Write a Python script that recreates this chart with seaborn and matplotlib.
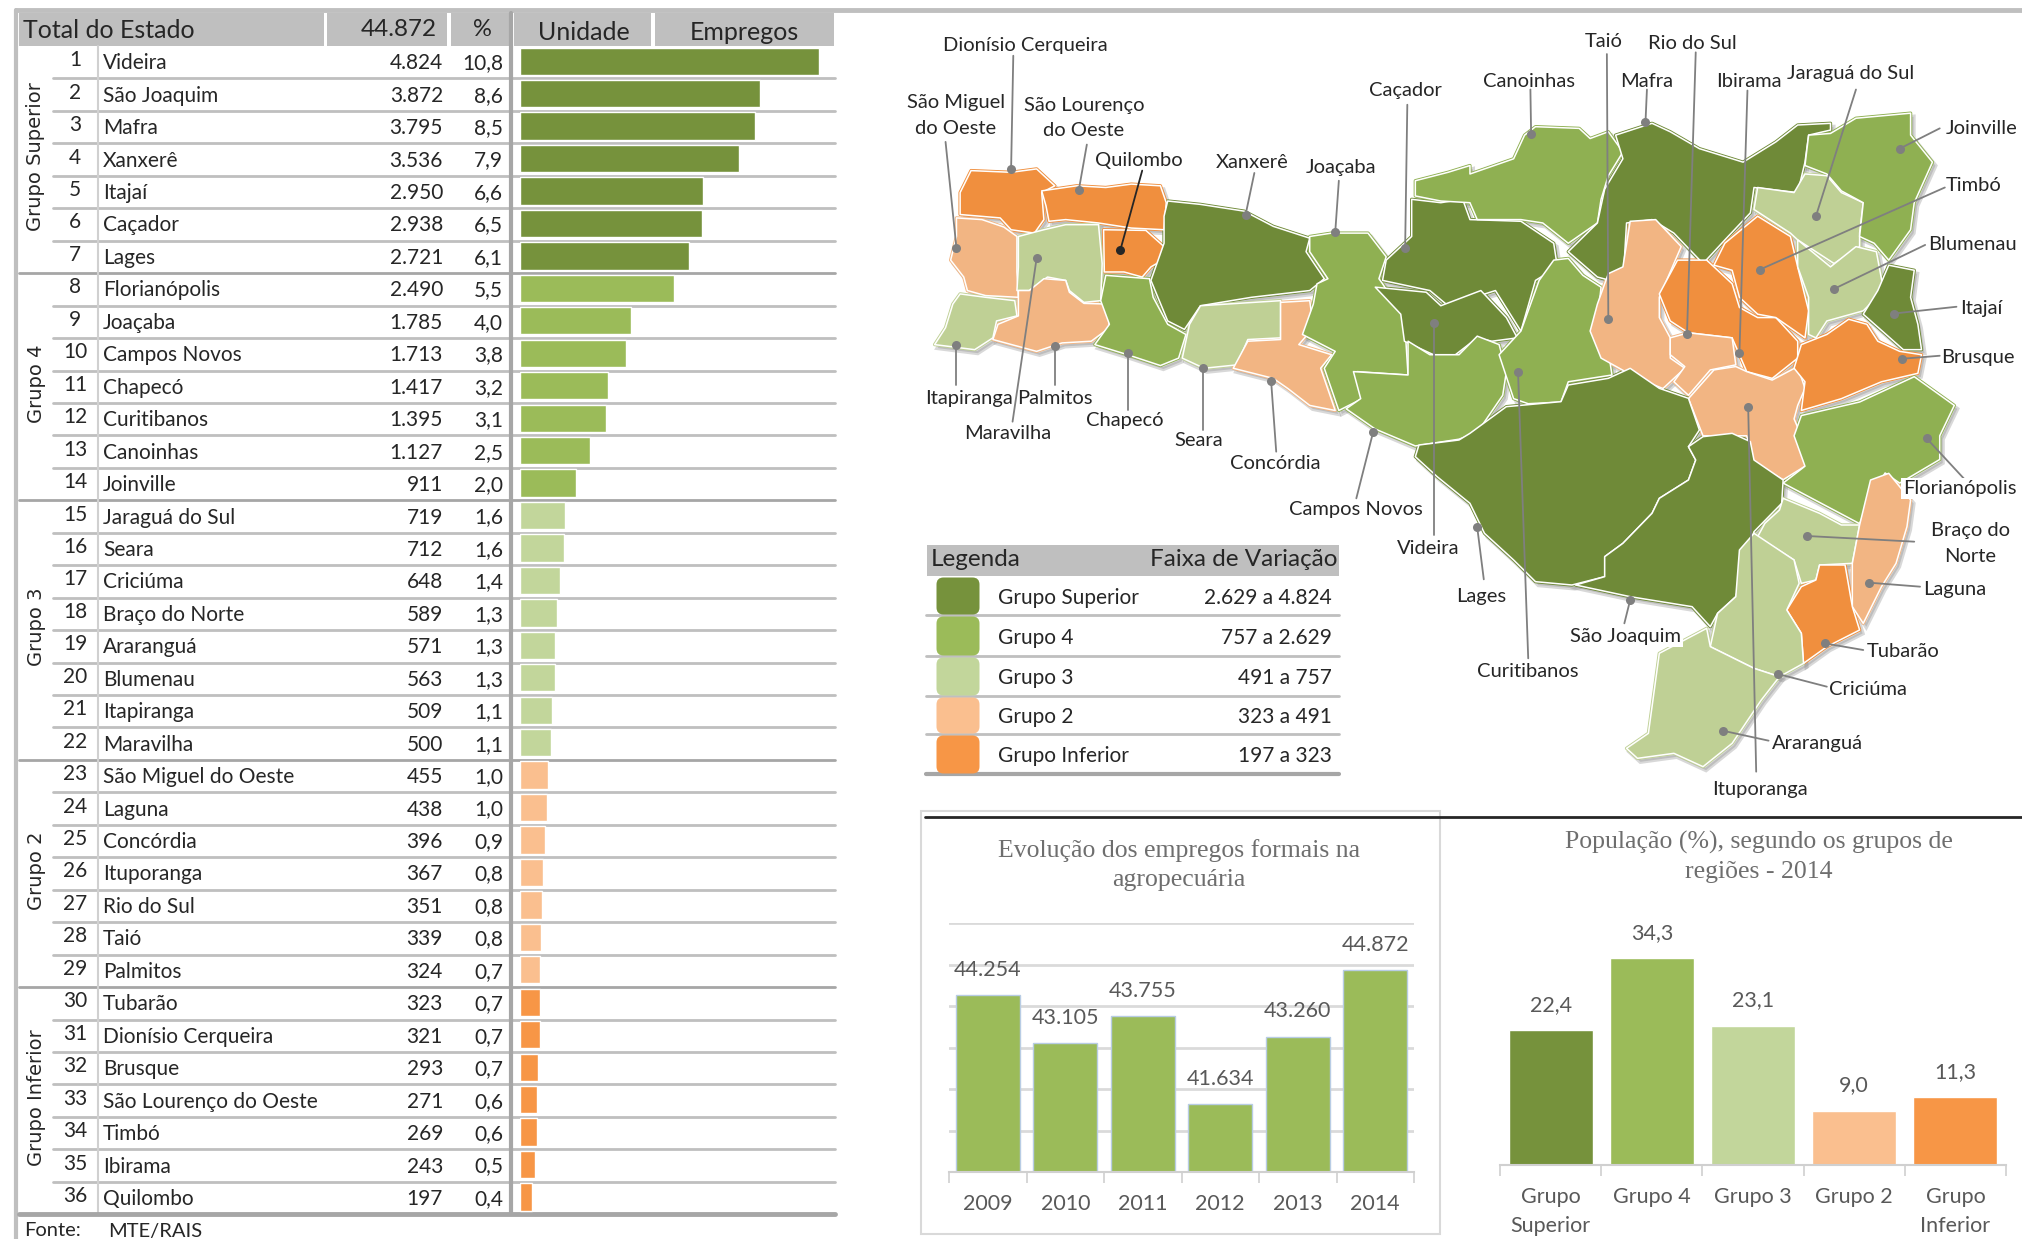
import matplotlib
matplotlib.use("Agg")
import matplotlib.pyplot as plt
from matplotlib.patches import FancyBboxPatch, Polygon, Rectangle
import numpy as np
import pandas as pd
import seaborn as sns

# Table data
unidades = ["Videira", "São Joaquim", "Mafra", "Xanxerê", "Itajaí", "Caçador", "Lages",
            "Florianópolis", "Joaçaba", "Campos Novos", "Chapecó", "Curitibanos", "Canoinhas", "Joinville",
            "Jaraguá do Sul", "Seara", "Criciúma", "Braço do Norte", "Araranguá", "Blumenau", "Itapiranga", "Maravilha",
            "São Miguel do Oeste", "Laguna", "Concórdia", "Ituporanga", "Rio do Sul", "Taió", "Palmitos",
            "Tubarão", "Dionísio Cerqueira", "Brusque", "São Lourenço do Oeste", "Timbó", "Ibirama", "Quilombo"]
empregos = [4824, 3872, 3795, 3536, 2950, 2938, 2721,
            2490, 1785, 1713, 1417, 1395, 1127, 911,
            719, 712, 648, 589, 571, 563, 509, 500,
            455, 438, 396, 367, 351, 339, 324,
            323, 321, 293, 271, 269, 243, 197]
percentual = ["10,8", "8,6", "8,5", "7,9", "6,6", "6,5", "6,1",
              "5,5", "4,0", "3,8", "3,2", "3,1", "2,5", "2,0",
              "1,6", "1,6", "1,4", "1,3", "1,3", "1,3", "1,1", "1,1",
              "1,0", "1,0", "0,9", "0,8", "0,8", "0,8", "0,7",
              "0,7", "0,7", "0,7", "0,6", "0,6", "0,5", "0,4"]
grupo_nomes = ["Grupo Superior", "Grupo 4", "Grupo 3", "Grupo 2", "Grupo Inferior"]
grupo_tamanhos = [7, 7, 8, 7, 7]
grupo_faixas = ["2.629 a 4.824", "757 a 2.629", "491 a 757", "323 a 491", "197 a 323"]
grupo_cores = ["#76923C", "#9BBB59", "#C2D69B", "#FABF8F", "#F79646"]
mapa_cores = ["#6F8A38", "#8FB052", "#BFD095", "#F2B583", "#F08F3E"]

# Small charts
anos = ["2009", "2010", "2011", "2012", "2013", "2014"]
evolucao = [44254, 43105, 43755, 41634, 43260, 44872]
evolucao_rotulos = ["44.254", "43.105", "43.755", "41.634", "43.260", "44.872"]
pop_grupos = ["Grupo\nSuperior", "Grupo 4", "Grupo 3", "Grupo 2", "Grupo\nInferior"]
pop_valores = [22.4, 34.3, 23.1, 9.0, 11.3]
pop_rotulos = ["22,4", "34,3", "23,1", "9,0", "11,3"]

# Map shapes, group index + outline
# north: crop coordinates, y 0-1568 = 0-530 px
mapa_norte = [
    (4, [(125,505),(180,510),(215,500),(240,550),(222,570),(225,650),(212,690),(180,680),(165,645),(110,635),(110,570)]),
    (4, [(222,565),(270,550),(310,555),(345,545),(385,550),(393,600),(390,680),(345,675),(300,660),(255,650),(232,655),(228,610)]),
    (4, [(307,680),(365,682),(390,730),(388,770),(372,790),(360,820),(335,805),(308,805)]),
    (3, [(105,645),(140,650),(170,672),(188,700),(188,805),(190,880),(145,875),(120,860),(115,820),(97,770),(105,700)]),
    (2, [(190,700),(225,680),(255,665),(300,665),(305,780),(303,890),(280,895),(260,860),(255,830),(230,820),(205,860),(188,860),(190,790)]),
    (2, [(110,870),(145,880),(185,890),(188,935),(160,950),(155,1000),(130,1035),(75,1020),(90,970),(100,900)]),
    (3, [(190,860),(205,860),(225,825),(255,830),(260,865),(280,898),(312,900),(315,970),(290,1010),(250,1015),(215,1040),(155,1005),(162,960),(190,935)]),
    (1, [(310,815),(370,825),(375,880),(395,960),(420,990),(410,1060),(385,1082),(340,1050),(295,1020),(315,960),(303,890)]),
    (0, [(395,595),(440,605),(500,625),(540,670),(590,705),(585,745),(610,825),(590,860),(510,880),(440,905),(418,975),(395,950),(372,830),(390,720),(390,640)]),
    (2, [(440,905),(550,890),(550,1000),(505,1005),(490,1080),(445,1090),(415,1060),(425,960)]),
    (3, [(550,895),(590,890),(595,970),(575,1020),(620,1050),(605,1090),(625,1215),(590,1200),(560,1150),(540,1120),(485,1090),(505,1010),(550,1005)]),
    (1, [(590,700),(620,690),(670,690),(695,760),(685,825),(690,840),(720,940),(725,1110),(655,1100),(662,1180),(630,1215),(610,1090),(625,1040),(580,990),(595,900),(600,840),(615,825),(590,745)]),
    (0, [(730,590),(770,600),(800,590),(810,650),(880,655),(925,720),(930,790),(900,830),(880,980),(845,860),(780,905),(755,860),(690,830),(695,770),(730,700)]),
    (0, [(680,850),(750,865),(770,905),(825,860),(860,940),(875,1000),(840,1010),(820,1000),(790,1050),(760,1050),(720,1010),(715,930)]),
    (1, [(725,1010),(755,1050),(795,1050),(820,995),(850,1020),(860,1100),(855,1170),(820,1280),(795,1300),(735,1320),(680,1270),(640,1210),(660,1180),(650,1100),(725,1110)]),
    (1, [(925,770),(945,765),(965,815),(990,850),(985,950),(980,1000),(1000,1040),(1005,1110),(945,1130),(935,1190),(890,1195),(870,1180),(850,1050),(880,980),(905,830)]),
    (1, [(735,535),(780,510),(810,490),(810,515),(870,470),(885,400),(900,375),(960,380),(975,410),(1000,390),(1020,450),(1000,520),(990,590),(985,660),(945,720),(910,660),(880,650),(820,650),(810,600),(770,595),(735,580)]),
    (0, [(1010,400),(1060,365),(1085,390),(1125,440),(1185,480),(1230,420),(1260,370),(1305,365),(1305,385),(1275,400),(1270,480),(1260,570),(1200,555),(1195,630),(1160,710),(1130,780),(1090,690),(1060,650),(1025,660),(1020,840),(985,820),(945,745),(985,660),(995,560),(1020,470)]),
    (3, [(1030,655),(1065,650),(1100,730),(1090,780),(1070,880),(1070,940),(1085,1000),(1085,1060),(1105,1090),(1075,1150),(1040,1120),(990,1060),(975,980),(985,900),(1000,810),(1020,790)]),
    (4, [(1095,770),(1135,770),(1145,790),(1170,840),(1180,910),(1205,940),(1230,940),(1260,1010),(1260,1060),(1225,1120),(1190,1100),(1170,1000),(1110,985),(1085,950),(1070,870)]),
    (4, [(1205,640),(1250,700),(1260,790),(1275,920),(1270,1000),(1230,940),(1205,930),(1180,880),(1170,800),(1145,785),(1160,720)]),
    (3, [(1085,1000),(1110,985),(1170,1000),(1175,1080),(1140,1095),(1110,1170),(1090,1130),(1105,1085),(1085,1050)]),
    (3, [(1145,1095),(1175,1085),(1190,1100),(1225,1125),(1260,1085),(1270,1150),(1260,1200),(1255,1240),(1275,1340),(1270,1380),(1240,1420),(1200,1370),(1190,1290),(1130,1290),(1110,1180)]),
    (2, [(1205,555),(1255,570),(1270,515),(1300,520),(1320,570),(1350,600),(1345,690),(1345,730),(1310,780),(1260,710),(1250,690),(1200,620)]),
    (1, [(1275,400),(1305,395),(1340,350),(1415,335),(1415,400),(1445,480),(1420,600),(1415,680),(1385,770),(1365,720),(1345,700),(1350,600),(1320,565),(1300,515),(1270,490)]),
    (2, [(1260,710),(1305,790),(1340,730),(1368,745),(1378,860),(1350,920),(1300,950),(1285,1000),(1275,990),(1275,880),(1260,790)]),
    (0, [(1385,785),(1420,800),(1415,880),(1425,960),(1430,1035),(1405,1035),(1350,930),(1370,860)]),
    (4, [(1255,1090),(1265,1020),(1300,990),(1330,945),(1355,960),(1370,1010),(1400,1040),(1430,1050),(1425,1105),(1375,1130),(1320,1180),(1265,1215),(1270,1130)]),
    (1, [(1265,1230),(1345,1190),(1420,1115),(1475,1200),(1455,1290),(1455,1360),(1400,1430),(1380,1400),(1360,1470),(1345,1550),(1310,1510),(1240,1430),(1270,1380),(1255,1290)]),
]
# south: crop coordinates, y 0 = 400 px, 3 units per px
mapa_sul = [
    (0, [(1030,-95),(1070,-35),(1110,-5),(1125,90),(1110,140),(1120,180),(1110,240),(1070,295),(1060,340),(1020,430),(995,470),(995,530),(950,555),(900,545),(870,480),(830,400),(810,310),(765,230),(735,170),(740,135),(795,120),(810,100),(860,20),(885,15),(935,5),(945,-45),(1000,-65)]),
    (0, [(1170,100),(1195,125),(1200,180),(1240,240),(1238,310),(1200,395),(1190,460),(1175,590),(1150,640),(1140,680),(1115,620),(1030,590),(955,555),(995,530),(995,470),(1020,430),(1060,340),(1070,295),(1110,240),(1120,180),(1110,140),(1130,110)]),
    (2, [(1240,295),(1290,340),(1320,375),(1345,375),(1335,490),(1290,495),(1285,540),(1265,550),(1255,480),(1205,410),(1215,370),(1235,330)]),
    (3, [(1385,220),(1415,300),(1410,380),(1395,490),(1375,560),(1350,670),(1335,620),(1335,490),(1345,375),(1360,240)]),
    (4, [(1290,495),(1325,495),(1335,620),(1345,690),(1300,740),(1268,790),(1265,700),(1245,630),(1265,560),(1285,540)]),
    (2, [(1200,400),(1255,480),(1262,550),(1245,630),(1265,700),(1268,790),(1235,830),(1200,805),(1140,740),(1150,640),(1175,590),(1180,450)]),
    (2, [(1135,685),(1140,740),(1200,805),(1235,830),(1210,900),(1170,1030),(1130,1100),(1090,1060),(1040,1075),(1025,1045),(1055,1000),(1070,760)]),
]


def norte(p):
    return (880 + p[0] / 1.373, p[1] / 2.96)


def sul(p):
    return (880 + p[0] / 1.373, 400 + p[1] / 3)


# Map labels: text, text position, leader start, leader end
rotulos_mapa = [
    ("Dionísio Cerqueira", norte((200,130)), norte((183,165)), norte((180,500))),
    ("São Miguel\ndo Oeste", norte((104,338)), norte((90,420)), norte((105,735))),
    ("São Lourenço\ndo Oeste", norte((280,344)), norte((284,428)), norte((273,562))),
    ("Quilombo", norte((355,472)), norte((360,505)), norte((330,740))),
    ("Xanxerê", norte((511,476)), norte((514,512)), norte((502,635))),
    ("Joaçaba", norte((633,490)), norte((630,535)), norte((625,688))),
    ("Caçador", norte((721,263)), norte((724,310)), norte((721,735))),
    ("Canoinhas", norte((891,238)), norte((893,265)), norte((894,397))),
    ("Mafra", norte((1052,238)), norte((1053,265)), norte((1051,362))),
    ("Taió", norte((994,118)), norte((998,160)), norte((1000,945))),
    ("Rio do Sul", norte((1116,124)), norte((1120,155)), norte((1108,990))),
    ("Ibirama", norte((1193,238)), norte((1191,268)), norte((1180,1045))),
    ("Jaraguá do Sul", norte((1333,214)), norte((1340,265)), norte((1285,640))),
    ("Joinville", norte((1512,376)), norte((1455,380)), norte((1400,440))),
    ("Timbó", norte((1502,544)), norte((1462,555)), norte((1208,798))),
    ("Blumenau", norte((1500,718)), norte((1435,725)), norte((1310,855))),
    ("Itajaí", norte((1512,910)), norte((1478,908)), norte((1392,928))),
    ("Brusque", norte((1508,1053)), norte((1455,1053)), norte((1403,1062))),
    ("Florianópolis", sul((1482,262)), sul((1490,240)), sul((1437,115))),
    ("Braço do\nNorte", sul((1497,426)), sul((1420,425)), sul((1273,408))),
    ("Laguna", sul((1475,563)), sul((1428,560)), sul((1358,548))),
    ("Tubarão", sul((1405,750)), sul((1350,750)), sul((1297,730))),
    ("Criciúma", sul((1357,865)), sul((1300,860)), sul((1233,822))),
    ("Araranguá", sul((1287,1025)), sul((1220,1022)), sul((1157,992))),
    ("Ituporanga", sul((1208,1165)), sul((1203,1115)), sul((1192,20))),
    ("São Joaquim", sul((1023,706)), sul((1022,670)), sul((1030,600))),
    ("Curitibanos", sul((889,810)), sul((890,775)), norte((876,1100))),
    ("Lages", sul((826,585)), sul((829,538)), sul((820,382))),
    ("Videira", sul((752,440)), sul((760,405)), norte((760,955))),
    ("Campos Novos", sul((654,323)), sul((654,295)), sul((677,97))),
    ("Concórdia", sul((543,185)), sul((544,155)), norte((537,1128))),
    ("Seara", sul((437,118)), sul((444,90)), norte((444,1090))),
    ("Chapecó", sul((336,57)), sul((340,30)), norte((340,1045))),
    ("Maravilha", sul((176,95)), sul((182,65)), norte((215,765))),
    ("Palmitos", norte((240,1175)), norte((240,1140)), norte((240,1025))),
    ("Itapiranga", norte((122,1175)), norte((105,1140)), norte((105,1022))),
]

W, H = 2022, 1239
ROW_TOP, ROW_H = 46, 32.45

sns.set_theme(style="white")
plt.rcParams["font.family"] = ["Lato", "DejaVu Sans"]

fig = plt.figure(figsize=(W / 100, H / 100), dpi=100, facecolor="white")


def ax_px(x0, y0, x1, y1):
    ax = fig.add_axes([x0 / W, 1 - y1 / H, (x1 - x0) / W, (y1 - y0) / H])
    ax.patch.set_alpha(0)
    return ax


# Page layer, in pixels
bg = ax_px(0, 0, W, H)
bg.set_xlim(0, W)
bg.set_ylim(H, 0)
bg.axis("off")

TXT = "#262626"
LINE = "#BFBFBF"
bg.plot([16, W], [10, 10], color=LINE, lw=3.5)
bg.plot([16, 16], [10, H], color=LINE, lw=3)

# Table header
for x0, x1 in [(19, 324), (327, 447), (451, 509), (514, 651), (655, 834)]:
    bg.add_patch(Rectangle((x0, 13), x1 - x0, 33, color=LINE, lw=0))
bg.text(23, 30, "Total do Estado", fontsize=18, color=TXT, va="center")
bg.text(437, 30, "44.872", fontsize=17.5, color=TXT, va="center", ha="right")
bg.text(482, 30, "%", fontsize=17, color=TXT, va="center", ha="center")
bg.text(584, 32, "Unidade", fontsize=18, color=TXT, va="center", ha="center")
bg.text(744, 32, "Empregos", fontsize=18, color=TXT, va="center", ha="center")

# Table body
fim_grupos = np.cumsum(grupo_tamanhos)
for i in range(1, 36):
    y = ROW_TOP + i * ROW_H
    if i in fim_grupos:
        bg.plot([19, 835], [y, y], color="#A6A6A6", lw=2)
    else:
        bg.plot([53, 835], [y, y], color=LINE, lw=2)
bg.plot([98, 98], [46, ROW_TOP + 36 * ROW_H], color="#D0D0D0", lw=1.5)
bg.plot([511, 511], [13, ROW_TOP + 36 * ROW_H], color="#A6A6A6", lw=3)
bg.plot([19, 835], [ROW_TOP + 36 * ROW_H] * 2, color="#A6A6A6", lw=3.5)

for i, (nome, valor, pct) in enumerate(zip(unidades, empregos, percentual)):
    y = ROW_TOP + (i + 0.5) * ROW_H
    bg.text(75, y - 2, str(i + 1), fontsize=15, color=TXT, ha="center", va="center")
    bg.text(103, y + 1, nome, fontsize=15, color=TXT, va="center")
    bg.text(443, y + 1, f"{valor:,}".replace(",", "."), fontsize=15, color=TXT, ha="right", va="center")
    bg.text(503, y + 1, pct, fontsize=15, color=TXT, ha="right", va="center")

inicio = 0
for nome, n in zip(grupo_nomes, grupo_tamanhos):
    y = ROW_TOP + (inicio + n / 2) * ROW_H - 3
    bg.text(36, y, nome, fontsize=14, family="DejaVu Sans", color=TXT, rotation=90, ha="center", va="center")
    inicio += n

bg.text(24, 1231, "Fonte:", fontsize=14.5, color=TXT, va="center")
bg.text(108, 1231, "MTE/RAIS", fontsize=14.5, color=TXT, va="center")

# Table bars
grupos_linha = np.repeat(grupo_nomes, grupo_tamanhos)
df = pd.DataFrame({"unidade": unidades, "empregos": empregos, "grupo": grupos_linha})
ax_tab = ax_px(520, ROW_TOP - 1, 835, ROW_TOP - 1 + 36 * ROW_H)
sns.barplot(data=df, x="empregos", y="unidade", hue="grupo", hue_order=grupo_nomes,
            palette=grupo_cores, dodge=False, width=0.84, saturation=1, legend=False, ax=ax_tab)
ax_tab.set_xlim(0, 315 / 299 * max(empregos))
ax_tab.set_ylim(35.5, -0.5)
ax_tab.axis("off")

# Map: shadow, then a thick same-colour pass to close gaps, then the white outlines
formas = [(g, [norte(p) for p in pts]) for g, pts in mapa_norte] + [(g, [sul(p) for p in pts]) for g, pts in mapa_sul]
for g, pts in formas:
    sombra = [(x + 3, y + 3.5) for x, y in pts]
    bg.add_patch(Polygon(sombra, closed=True, color="#808080", alpha=0.3, lw=3, zorder=2))
for g, pts in formas:
    bg.add_patch(Polygon(pts, closed=True, facecolor=mapa_cores[g], edgecolor=mapa_cores[g], lw=2.4, joinstyle="round", zorder=3))
for g, pts in formas:
    bg.add_patch(Polygon(pts, closed=True, facecolor=mapa_cores[g], edgecolor="white", lw=1.1, joinstyle="round", zorder=4))

for texto, pos, ini, fim in rotulos_mapa:
    cor = "#262626" if texto == "Quilombo" else "#7F7F7F"
    bg.plot([ini[0], fim[0]], [ini[1], fim[1]], color=cor, lw=1.3, zorder=5)
    bg.plot(*fim, marker="o", ms=6.5, color=cor, mew=0, zorder=6)
    caixa = None
    if texto in ("Florianópolis", "São Joaquim"):
        caixa = dict(facecolor="white", edgecolor="none", pad=1.5)
    bg.text(pos[0], pos[1] + 1.5, texto, fontsize=14.5, color=TXT, ha="center", va="center",
            linespacing=1.6, bbox=caixa, zorder=7)

# Legend table
bg.add_patch(Rectangle((927, 545), 412, 31, color=LINE, lw=0))
bg.text(931, 559, "Legenda", fontsize=17.5, color=TXT, va="center")
bg.text(1338, 559, "Faixa de Variação", fontsize=17.5, color=TXT, va="center", ha="right")
linhas_leg = [576, 615, 656, 696, 734, 774]
for i, (nome, faixa, cor) in enumerate(zip(grupo_nomes, grupo_faixas, grupo_cores)):
    y0, y1 = linhas_leg[i], linhas_leg[i + 1]
    bg.plot([926, 1339], [y1, y1], color="#A6A6A6" if i == 4 else LINE, lw=3 if i == 4 else 2)
    bg.add_patch(FancyBboxPatch((940, y0 + 5), 36, y1 - y0 - 9, boxstyle="round,pad=3.5,rounding_size=7", color=cor, lw=0, zorder=3))
    bg.text(998, (y0 + y1) / 2 + 2, nome, fontsize=15, color=TXT, va="center")
    bg.text(1332, (y0 + y1) / 2 + 2, faixa, fontsize=15, color=TXT, va="center", ha="right")

# Frame of the evolution chart and the black rule over the small charts
bg.add_patch(Rectangle((921, 811), 519, 423, facecolor="none", edgecolor="#D9D9D9", lw=1.5))
bg.plot([925, W], [817, 817], color="#262626", lw=2)

GREY = "#595959"
SERIF = "Liberation Serif"
bg.text(1179, 865, "Evolução dos empregos formais na\nagropecuária", family=SERIF, fontsize=18.5,
        color="#6E6E6E", ha="center", va="center", linespacing=1.4)
bg.text(1759, 857, "População (%), segundo os grupos de\nregiões - 2014", family=SERIF, fontsize=18.5,
        color="#6E6E6E", ha="center", va="center", linespacing=1.4)


def eixo_categorias(ax, n):
    ax.set_xlim(-0.5, n - 0.5)
    ax.set_xticks(np.arange(n + 1) - 0.5, minor=True)
    ax.tick_params(axis="x", which="minor", length=8, width=1.2, color="#D0D0D0", bottom=True)
    ax.tick_params(axis="x", which="major", length=0, labelsize=15.5, labelcolor=GREY, pad=16)
    ax.set_xlabel("")
    ax.set_ylabel("")
    ax.tick_params(axis="y", left=False, labelleft=False)
    sns.despine(ax=ax, left=True)
    ax.spines["bottom"].set_color("#D0D0D0")
    ax.spines["bottom"].set_linewidth(1.5)
    for rotulo in ax.get_xticklabels():
        rotulo.set_linespacing(1.55)


# Employment evolution
ax1 = ax_px(949, 923, 1414, 1172)
sns.barplot(x=anos, y=evolucao, color="#9BBB59", saturation=1, width=0.83, edgecolor="#B8CCE4", linewidth=1, ax=ax1)
ax1.set_ylim(40000, 46000)
ax1.set_yticks(np.arange(40000, 46001, 1000))
ax1.grid(axis="y", color="#DADADA", lw=2)
ax1.set_axisbelow(True)
eixo_categorias(ax1, len(anos))
ax1.bar_label(ax1.containers[0], labels=evolucao_rotulos, padding=11, fontsize=15.5, color=GREY)

# Population by group
ax2 = ax_px(1500, 924, 2006, 1165)
sns.barplot(x=pop_grupos, y=pop_valores, hue=pop_grupos, hue_order=pop_grupos, palette=grupo_cores,
            saturation=1, width=0.83, dodge=False, legend=False, ax=ax2)
ax2.set_ylim(0, 40)
eixo_categorias(ax2, len(pop_grupos))
for cont, rotulo in zip(ax2.containers, pop_rotulos):
    ax2.bar_label(cont, labels=[rotulo if v > 0 and not np.isnan(v) else "" for v in cont.datavalues],
                  padding=11, fontsize=15.5, color=GREY)

fig.savefig("out.png", dpi=100)
